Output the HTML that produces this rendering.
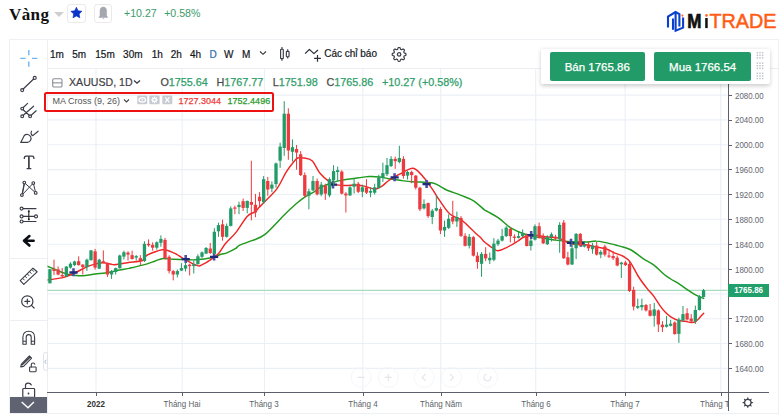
<!DOCTYPE html>
<html><head><meta charset="utf-8">
<style>
*{margin:0;padding:0;box-sizing:border-box}
html,body{width:780px;height:417px;overflow:hidden;background:#fff;font-family:"Liberation Sans",sans-serif;position:relative}
.abs{position:absolute}
#title{position:absolute;left:9px;top:5px;font-family:"Liberation Serif",serif;font-weight:bold;font-size:17px;color:#111;letter-spacing:0.4px;line-height:20px}
#tri{position:absolute;left:54px;top:11.5px;width:0;height:0;border-left:5px solid transparent;border-right:5px solid transparent;border-top:5px solid #cfcfcf}
.hbox{position:absolute;top:3.6px;width:18.6px;height:19px;border:1px solid #eaeaea;border-radius:3px;background:#fff}
#chg{position:absolute;left:124px;top:4.6px;font-size:10.6px;color:#3b9b68;line-height:16px;word-spacing:4.5px}
#logo{position:absolute;left:666px;top:9px}
#frame{position:absolute;left:9px;top:39px;width:770px;height:374.5px;border:1px solid #eef0f4}
#lt{position:absolute;left:47px;top:39px;width:1px;height:374px;background:#eceef2}
#tbline{position:absolute;left:47px;top:68px;width:731px;height:1px;background:#eceef2}
.tf{position:absolute;top:49px;font-size:10px;color:#131722;line-height:12px;-webkit-text-stroke:0.2px #131722}
#legend1{position:absolute;left:69px;top:76px;font-size:10.6px;color:#3f4046;line-height:13px;white-space:nowrap;-webkit-text-stroke:0.2px #3f4046}
#legend1 .g{color:#2f9e6a}
#redbox{position:absolute;left:44.3px;top:92.2px;width:229.6px;height:19.4px;border:2.5px solid #ee1111;border-radius:2.5px}
#ma{position:absolute;left:52.5px;top:95.5px;font-size:9px;color:#555;line-height:11px;white-space:nowrap}
.ib{position:absolute;top:95.5px;width:9.3px;height:9px;background:#d3d6dc;border-radius:1px}
#mav1{position:absolute;left:178.4px;top:95.5px;font-size:9px;color:#ee3b3b;line-height:11px;-webkit-text-stroke:0.25px #ee3b3b}
#mav2{position:absolute;left:227.6px;top:95.5px;font-size:9px;color:#2e9a2e;line-height:11px;-webkit-text-stroke:0.25px #2e9a2e}
#panel{position:absolute;left:540.6px;top:49.2px;width:229px;height:35px;background:#fff;box-shadow:0 1.5px 4px rgba(0,0,0,0.2);border-radius:2px}
.btn{position:absolute;top:52px;height:28.7px;background:#239b68;border-radius:2px;color:#fff;font-size:11.5px;line-height:30px;text-align:center;-webkit-text-stroke:0.25px #fff}
#axisV{position:absolute;left:727.8px;top:68px;width:1.3px;height:342.5px;background:#5d606b}
#axisH{position:absolute;left:47px;top:391.8px;width:722px;height:1.3px;background:#5d606b}
.pl{position:absolute;left:734.5px;font-size:9.4px;color:#63666e;line-height:10px;transform:scaleX(0.845);transform-origin:0 0;white-space:nowrap}
.tk{position:absolute;left:729px;width:3px;height:1px;background:#5d606b}
.tl{position:absolute;top:398.5px;width:80px;text-align:center;font-size:9.3px;color:#5c5f68;line-height:10px;transform:scaleX(0.86);white-space:nowrap}
.tl.b{font-weight:bold;color:#333}
.ttk{position:absolute;top:393px;width:1px;height:3px;background:#5d606b}
#pricetag{position:absolute;left:727.7px;top:284.4px;width:41.2px;height:12.3px;background:#22a06b;color:#fff;font-weight:bold;font-size:9.2px;line-height:12.8px;text-align:center;white-space:nowrap}
#collapse{position:absolute;left:10px;top:396.6px;width:36.9px;height:16px;background:#5f6270}
#sidetab{position:absolute;left:42.9px;top:351.7px;width:5px;height:19.5px;border:1px solid #dfe2e8;border-radius:3px;background:#fff}
.sep{position:absolute;left:9.5px;width:37.5px;height:1px;background:#eceef2}
svg{position:absolute;overflow:visible}
</style></head><body>
<div id="title">Vàng</div>
<div id="tri"></div>
<div class="hbox" style="left:67.3px"></div>
<svg style="left:67.3px;top:4px" width="19" height="19" viewBox="0 0 19 19"><path d="M9.40,3.30 L11.05,6.83 L14.92,7.31 L12.06,9.97 L12.81,13.79 L9.40,11.90 L5.99,13.79 L6.74,9.97 L3.88,7.31 L7.75,6.83 Z" fill="#0b35c8" stroke="#0b35c8" stroke-width="0.7" stroke-linejoin="round"/></svg>
<div class="hbox" style="left:93.5px"></div>
<svg style="left:93.5px;top:4px" width="19" height="19" viewBox="0 0 19 19"><path d="M9.3,3 C7.2,3 6,4.6 6,7 L6,11.6 L4.9,13.4 L13.7,13.4 L12.6,11.6 L12.6,7 C12.6,4.6 11.4,3 9.3,3 Z" fill="#a4a7af" stroke="#a4a7af" stroke-width="0.5" stroke-linejoin="round"/><path d="M8.2,14.2 H10.4 L9.3,15.2 Z" fill="#a4a7af"/></svg>
<div id="chg">+10.27 +0.58%</div>
<svg style="left:660px;top:6px" width="120" height="30" viewBox="660 6 120 30">
 <g fill="none" stroke="#0b3fcf" stroke-width="2.1" stroke-linejoin="miter">
  <path d="M668,27.6 V16.6 L675.5,12 L679.4,14.2 V26.4"/>
  <path d="M673,18.5 V29.8"/>
  <path d="M675.6,13 V30.6 L683.1,27.6 V17.6"/>
 </g>
 <circle cx="682.4" cy="15.6" r="1.05" fill="#ff6420"/>
 <text x="687.2" y="28.1" font-family="Liberation Sans" font-weight="bold" font-size="19.3" fill="#111" textLength="14.2" lengthAdjust="spacingAndGlyphs" stroke="#111" stroke-width="0.7">M</text>
 <rect x="705.2" y="18" width="2.5" height="10.1" fill="#111"/>
 <circle cx="706.5" cy="15.4" r="1.3" fill="#ff6420"/>
 <text x="709.4" y="28.1" font-family="Liberation Sans" font-size="19.6" fill="#ff5c16" textLength="67" lengthAdjust="spacingAndGlyphs" stroke="#ff5c16" stroke-width="0.5">TRADE</text>
</svg>

<div id="frame"></div>
<div id="lt"></div>
<div id="tbline"></div>

<!-- chart -->
<svg style="left:0;top:0" width="780" height="417" viewBox="0 0 780 417">
<defs><clipPath id="cc"><rect x="47.5" y="68.5" width="680" height="323"/></clipPath></defs>
<g clip-path="url(#cc)">
<line x1="47" y1="368.4" x2="728" y2="368.4" stroke="#ebeff6" stroke-width="1.1"/>
<line x1="47" y1="343.5" x2="728" y2="343.5" stroke="#ebeff6" stroke-width="1.1"/>
<line x1="47" y1="318.7" x2="728" y2="318.7" stroke="#ebeff6" stroke-width="1.1"/>
<line x1="47" y1="293.9" x2="728" y2="293.9" stroke="#ebeff6" stroke-width="1.1"/>
<line x1="47" y1="269.0" x2="728" y2="269.0" stroke="#ebeff6" stroke-width="1.1"/>
<line x1="47" y1="244.2" x2="728" y2="244.2" stroke="#ebeff6" stroke-width="1.1"/>
<line x1="47" y1="219.3" x2="728" y2="219.3" stroke="#ebeff6" stroke-width="1.1"/>
<line x1="47" y1="194.5" x2="728" y2="194.5" stroke="#ebeff6" stroke-width="1.1"/>
<line x1="47" y1="169.6" x2="728" y2="169.6" stroke="#ebeff6" stroke-width="1.1"/>
<line x1="47" y1="144.8" x2="728" y2="144.8" stroke="#ebeff6" stroke-width="1.1"/>
<line x1="47" y1="119.9" x2="728" y2="119.9" stroke="#ebeff6" stroke-width="1.1"/>
<line x1="47" y1="95.1" x2="728" y2="95.1" stroke="#ebeff6" stroke-width="1.1"/>
<line x1="96.0" y1="68" x2="96.0" y2="392" stroke="#ebeff6" stroke-width="1.1"/>
<line x1="182.2" y1="68" x2="182.2" y2="392" stroke="#ebeff6" stroke-width="1.1"/>
<line x1="264.5" y1="68" x2="264.5" y2="392" stroke="#ebeff6" stroke-width="1.1"/>
<line x1="362.8" y1="68" x2="362.8" y2="392" stroke="#ebeff6" stroke-width="1.1"/>
<line x1="440.7" y1="68" x2="440.7" y2="392" stroke="#ebeff6" stroke-width="1.1"/>
<line x1="535.7" y1="68" x2="535.7" y2="392" stroke="#ebeff6" stroke-width="1.1"/>
<line x1="625.1" y1="68" x2="625.1" y2="392" stroke="#ebeff6" stroke-width="1.1"/>
<line x1="720.7" y1="68" x2="720.7" y2="392" stroke="#ebeff6" stroke-width="1.1"/>
<line x1="47" y1="290.4" x2="728" y2="290.4" stroke="#a9dcc0" stroke-width="1.1"/>
<circle cx="361.2" cy="377.4" r="10" fill="none" stroke="#f5f6f8" stroke-width="1"/>
<path d="M357.7,377.4H364.7" stroke="#e4e6ea" stroke-width="1.2" fill="none"/>
<circle cx="388.3" cy="377.4" r="10" fill="none" stroke="#f5f6f8" stroke-width="1"/>
<path d="M384.8,377.4H391.8M388.3,373.9V380.9" stroke="#e4e6ea" stroke-width="1.2" fill="none"/>
<circle cx="424.2" cy="377.4" r="10" fill="none" stroke="#f5f6f8" stroke-width="1"/>
<path d="M425.7,373.9L422.2,377.4L425.7,380.9" stroke="#e4e6ea" stroke-width="1.2" fill="none"/>
<circle cx="451.5" cy="377.4" r="10" fill="none" stroke="#f5f6f8" stroke-width="1"/>
<path d="M450.0,373.9L453.5,377.4L450.0,380.9" stroke="#e4e6ea" stroke-width="1.2" fill="none"/>
<circle cx="487.6" cy="377.4" r="10" fill="none" stroke="#f5f6f8" stroke-width="1"/>
<path d="M490.6,375.9A3.5,3.5 0 1 1 486.6,374.0" stroke="#e4e6ea" stroke-width="1.2" fill="none"/>
<path d="M47.0,266.1 C49.0,266.9 55.1,269.6 58.7,271.0 C62.3,272.4 65.6,273.8 68.6,274.5 C71.5,275.2 73.6,275.3 76.4,275.5 C79.2,275.7 82.2,275.8 85.3,275.5 C88.4,275.2 91.8,274.4 95.1,274.0 C98.4,273.6 102.0,273.4 105.0,273.0 C108.0,272.6 110.3,272.0 112.8,271.5 C115.2,271.0 117.1,270.5 119.7,270.0 C122.3,269.5 124.7,269.2 128.7,268.4 C132.7,267.5 139.1,266.1 143.5,264.9 C147.9,263.7 152.0,262.1 155.3,261.0 C158.6,259.9 160.3,258.8 163.2,258.5 C166.1,258.2 169.2,259.1 172.8,259.3 C176.4,259.5 180.7,259.5 184.6,259.6 C188.5,259.7 192.0,260.1 196.4,259.8 C200.8,259.5 207.0,258.7 211.1,257.8 C215.2,256.9 218.4,255.1 221.0,254.3 C223.6,253.5 224.5,253.9 226.9,252.9 C229.3,251.9 233.6,249.7 235.7,248.4 C237.8,247.1 236.6,246.6 239.3,245.3 C242.0,244.0 247.5,242.5 251.8,240.7 C256.1,238.9 259.6,238.7 265.0,234.4 C270.4,230.1 279.2,219.9 284.2,215.0 C289.2,210.1 291.7,207.7 295.0,204.8 C298.3,201.9 300.7,199.8 304.0,197.6 C307.3,195.3 312.1,193.0 314.8,191.3 C317.5,189.7 317.1,189.1 320.0,187.7 C322.9,186.3 328.4,184.1 332.1,182.8 C335.8,181.5 337.1,181.0 342.0,180.1 C346.9,179.2 357.3,178.0 361.8,177.4 C366.3,176.8 366.0,176.6 369.0,176.5 C372.0,176.4 376.5,176.6 379.8,177.0 C383.1,177.4 385.2,178.1 388.8,178.7 C392.4,179.3 397.5,180.0 401.4,180.5 C405.3,181.0 408.3,181.4 412.2,181.7 C416.1,182.0 421.2,182.1 424.8,182.3 C428.4,182.6 431.1,182.4 433.8,183.2 C436.5,183.9 438.9,185.7 441.0,186.8 C443.1,187.9 443.3,188.6 446.6,190.0 C449.9,191.4 456.5,193.6 461.0,195.4 C465.5,197.2 469.7,198.4 473.6,200.8 C477.5,203.2 482.0,208.0 484.4,209.8 C486.8,211.6 485.6,210.4 488.0,211.8 C490.4,213.2 495.2,215.6 498.8,218.1 C502.4,220.6 506.0,224.7 509.6,227.1 C513.2,229.5 516.8,231.0 520.4,232.5 C524.0,234.0 527.6,235.2 531.2,236.1 C534.8,237.0 538.4,237.3 542.0,237.9 C545.6,238.5 549.2,239.2 552.8,239.7 C556.4,240.2 558.4,240.7 563.8,241.1 C569.2,241.5 580.0,242.0 585.4,242.0 C590.8,242.0 592.6,240.9 596.2,241.1 C599.8,241.2 603.4,242.2 607.0,242.9 C610.6,243.7 615.1,244.9 617.8,245.6 C620.5,246.3 620.8,246.3 623.0,247.0 C625.2,247.7 627.9,248.1 631.2,250.0 C634.6,251.9 639.3,256.1 643.1,258.6 C646.9,261.1 650.3,262.4 653.9,265.1 C657.5,267.8 661.8,272.5 664.6,274.8 C667.4,277.1 668.3,277.4 670.8,279.0 C673.3,280.6 676.8,282.4 679.8,284.4 C682.8,286.3 686.1,288.9 688.8,290.7 C691.5,292.5 693.5,293.9 696.0,295.2 C698.5,296.5 702.4,297.9 703.7,298.4" fill="none" stroke="#1f9a1f" stroke-width="1.45" stroke-linejoin="round" stroke-linecap="round"/>
<path d="M47.0,280.0 C47.7,279.9 48.6,279.8 51.4,279.4 C54.2,279.0 60.0,278.4 63.7,277.4 C67.4,276.4 69.7,275.2 73.5,273.5 C77.3,271.8 83.0,268.6 86.3,267.1 C89.6,265.6 90.4,265.3 93.2,264.6 C96.0,263.9 99.7,262.7 103.0,262.7 C106.3,262.7 110.3,264.4 112.8,264.6 C115.2,264.9 115.1,264.6 117.7,264.2 C120.3,263.8 124.6,263.1 128.7,262.5 C132.8,261.9 139.6,261.6 142.5,260.5 C145.4,259.4 144.3,257.1 146.4,255.6 C148.5,254.1 152.7,252.7 155.3,251.7 C157.9,250.7 160.2,249.9 162.2,249.7 C164.2,249.4 165.3,249.7 167.1,250.2 C168.9,250.7 171.4,251.9 173.0,252.6 C174.6,253.3 174.8,253.2 176.7,254.3 C178.6,255.4 181.1,257.4 184.6,259.3 C188.1,261.2 194.4,264.7 197.4,265.6 C200.4,266.5 200.0,265.8 202.3,264.7 C204.6,263.6 208.3,261.3 211.1,259.3 C213.9,257.3 216.6,255.5 219.0,252.9 C221.4,250.3 222.4,247.3 225.3,243.8 C228.2,240.3 232.6,236.7 236.2,232.1 C239.8,227.5 244.0,219.9 247.1,216.5 C250.2,213.1 252.9,213.3 254.9,211.8 C256.9,210.3 257.4,209.1 259.0,207.5 C260.6,205.9 261.4,205.2 264.4,202.1 C267.4,198.9 273.4,193.5 277.0,188.6 C280.6,183.7 283.3,176.8 286.0,172.4 C288.7,168.1 291.2,164.9 293.2,162.5 C295.1,160.1 295.9,158.8 297.7,158.0 C299.5,157.2 301.6,157.6 304.0,158.0 C306.4,158.4 309.4,158.1 312.1,160.7 C314.8,163.2 317.1,169.8 320.0,173.3 C322.9,176.8 326.9,180.0 329.4,181.9 C331.9,183.8 332.1,184.0 334.8,184.6 C337.5,185.2 342.0,185.4 345.6,185.5 C349.2,185.6 353.1,184.8 356.4,185.0 C359.7,185.2 362.4,185.7 365.4,186.4 C368.4,187.1 371.7,189.1 374.4,189.1 C377.1,189.1 379.2,187.8 381.6,186.4 C384.0,185.0 385.8,182.5 388.8,180.5 C391.8,178.5 395.9,176.2 399.6,174.2 C403.4,172.2 408.5,169.1 411.3,168.4 C414.1,167.7 414.4,168.5 416.7,170.2 C418.9,171.9 422.2,175.6 424.8,178.7 C427.4,181.8 429.4,184.8 432.0,188.6 C434.6,192.3 437.1,196.9 440.1,201.2 C443.1,205.5 446.7,211.2 450.2,214.3 C453.7,217.4 457.3,217.1 461.0,219.7 C464.7,222.3 469.7,227.6 472.3,230.0 C474.9,232.4 475.1,232.7 476.5,234.0 C477.9,235.3 479.8,236.8 481.0,238.0 C482.2,239.2 482.6,240.2 484.0,241.5 C485.4,242.8 487.9,244.6 489.5,245.8 C491.1,247.0 492.6,247.9 493.8,248.7 C495.1,249.5 495.8,250.4 497.0,250.6 C498.2,250.8 499.5,250.5 501.0,250.0 C502.5,249.5 504.1,248.7 506.0,247.8 C507.9,246.9 510.6,245.5 512.6,244.4 C514.6,243.3 516.1,242.2 518.0,241.0 C519.9,239.8 521.2,238.0 524.0,237.0 C526.8,236.0 530.9,235.2 534.8,235.2 C538.7,235.2 543.5,236.6 547.4,237.0 C551.3,237.4 554.1,236.8 558.0,237.9 C561.9,239.0 566.4,242.7 571.0,243.8 C575.6,244.9 581.2,244.2 585.4,244.7 C589.6,245.2 592.6,246.2 596.2,247.0 C599.8,247.8 604.0,248.2 607.0,249.2 C610.0,250.2 611.4,251.6 614.2,252.8 C617.0,254.0 621.0,255.0 623.6,256.5 C626.2,258.0 627.6,258.5 630.1,261.9 C632.6,265.3 635.8,272.5 638.7,277.0 C641.6,281.5 644.9,285.7 647.4,288.9 C649.9,292.1 651.8,293.5 653.9,296.4 C656.0,299.3 658.4,303.5 660.3,306.1 C662.2,308.8 663.6,310.5 665.4,312.3 C667.1,314.1 668.7,315.5 670.8,316.8 C672.9,318.1 675.6,319.6 678.0,320.4 C680.4,321.1 683.0,320.9 685.2,321.3 C687.5,321.7 689.7,322.5 691.5,322.5 C693.3,322.5 694.6,322.1 696.0,321.3 C697.4,320.5 698.3,319.1 699.6,317.7 C700.9,316.3 703.0,313.9 703.7,313.2" fill="none" stroke="#ef2626" stroke-width="1.45" stroke-linejoin="round" stroke-linecap="round"/>
<path d="M73.5,268.3V276.3" stroke="#4d4dab" stroke-width="2.6"/><path d="M69.4,272.5H77.6" stroke="#1f2a78" stroke-width="2.3"/>
<path d="M185.7,255.0V263.0" stroke="#4d4dab" stroke-width="2.6"/><path d="M181.6,259.2H189.8" stroke="#1f2a78" stroke-width="2.3"/>
<path d="M214.1,252.6V260.6" stroke="#4d4dab" stroke-width="2.6"/><path d="M210.0,256.8H218.2" stroke="#1f2a78" stroke-width="2.3"/>
<path d="M333.0,180.4V188.4" stroke="#4d4dab" stroke-width="2.6"/><path d="M328.9,184.6H337.1" stroke="#1f2a78" stroke-width="2.3"/>
<path d="M394.6,173.2V181.2" stroke="#4d4dab" stroke-width="2.6"/><path d="M390.5,177.4H398.7" stroke="#1f2a78" stroke-width="2.3"/>
<path d="M426.6,179.9V187.9" stroke="#4d4dab" stroke-width="2.6"/><path d="M422.5,184.1H430.7" stroke="#1f2a78" stroke-width="2.3"/>
<path d="M531.2,231.0V239.0" stroke="#4d4dab" stroke-width="2.6"/><path d="M527.1,235.2H535.3" stroke="#1f2a78" stroke-width="2.3"/>
<path d="M571.0,238.7V246.7" stroke="#4d4dab" stroke-width="2.6"/><path d="M566.9,242.9H575.1" stroke="#1f2a78" stroke-width="2.3"/>
<path d="M580.9,238.7V246.7" stroke="#4d4dab" stroke-width="2.6"/><path d="M576.8,242.9H585.0" stroke="#1f2a78" stroke-width="2.3"/>
<line x1="49.90" y1="269.2" x2="49.90" y2="283.3" stroke="#239b68" stroke-width="1"/>
<rect x="48.25" y="269.2" width="3.3" height="14.1" fill="#239b68"/>
<line x1="54.01" y1="259.7" x2="54.01" y2="275.0" stroke="#ec3a3e" stroke-width="1"/>
<rect x="52.36" y="269.1" width="3.3" height="1.9" fill="#ec3a3e"/>
<line x1="58.12" y1="266.4" x2="58.12" y2="275.3" stroke="#ec3a3e" stroke-width="1"/>
<rect x="56.47" y="269.4" width="3.3" height="5.1" fill="#ec3a3e"/>
<line x1="62.23" y1="268.1" x2="62.23" y2="277.0" stroke="#ec3a3e" stroke-width="1"/>
<rect x="60.58" y="275.0" width="3.3" height="1.4" fill="#ec3a3e"/>
<line x1="66.34" y1="266.1" x2="66.34" y2="276.8" stroke="#239b68" stroke-width="1"/>
<rect x="64.69" y="266.6" width="3.3" height="9.8" fill="#239b68"/>
<line x1="70.45" y1="262.2" x2="70.45" y2="268.6" stroke="#239b68" stroke-width="1"/>
<rect x="68.80" y="263.7" width="3.3" height="3.9" fill="#239b68"/>
<line x1="74.57" y1="260.7" x2="74.57" y2="266.1" stroke="#239b68" stroke-width="1"/>
<rect x="72.92" y="261.5" width="3.3" height="3.6" fill="#239b68"/>
<line x1="78.68" y1="256.3" x2="78.68" y2="265.6" stroke="#ec3a3e" stroke-width="1"/>
<rect x="77.03" y="261.2" width="3.3" height="3.9" fill="#ec3a3e"/>
<line x1="82.79" y1="264.2" x2="82.79" y2="274.5" stroke="#ec3a3e" stroke-width="1"/>
<rect x="81.14" y="264.6" width="3.3" height="2.5" fill="#ec3a3e"/>
<line x1="86.90" y1="258.6" x2="86.90" y2="271.0" stroke="#239b68" stroke-width="1"/>
<rect x="85.25" y="259.7" width="3.3" height="7.4" fill="#239b68"/>
<line x1="91.01" y1="250.0" x2="91.01" y2="260.5" stroke="#239b68" stroke-width="1"/>
<rect x="89.36" y="250.4" width="3.3" height="9.8" fill="#239b68"/>
<line x1="95.12" y1="248.9" x2="95.12" y2="269.6" stroke="#ec3a3e" stroke-width="1"/>
<rect x="93.47" y="251.4" width="3.3" height="16.2" fill="#ec3a3e"/>
<line x1="99.23" y1="258.7" x2="99.23" y2="269.0" stroke="#239b68" stroke-width="1"/>
<rect x="97.58" y="259.7" width="3.3" height="8.9" fill="#239b68"/>
<line x1="103.34" y1="250.4" x2="103.34" y2="263.2" stroke="#ec3a3e" stroke-width="1"/>
<rect x="101.69" y="261.2" width="3.3" height="1.5" fill="#ec3a3e"/>
<line x1="107.45" y1="262.7" x2="107.45" y2="276.9" stroke="#ec3a3e" stroke-width="1"/>
<rect x="105.80" y="263.2" width="3.3" height="11.3" fill="#ec3a3e"/>
<line x1="111.56" y1="270.0" x2="111.56" y2="278.9" stroke="#239b68" stroke-width="1"/>
<rect x="109.91" y="271.0" width="3.3" height="3.5" fill="#239b68"/>
<line x1="115.68" y1="267.6" x2="115.68" y2="274.5" stroke="#239b68" stroke-width="1"/>
<rect x="114.03" y="268.1" width="3.3" height="3.9" fill="#239b68"/>
<line x1="119.79" y1="254.6" x2="119.79" y2="268.5" stroke="#239b68" stroke-width="1"/>
<rect x="118.14" y="255.5" width="3.3" height="12.7" fill="#239b68"/>
<line x1="123.90" y1="250.7" x2="123.90" y2="259.5" stroke="#239b68" stroke-width="1"/>
<rect x="122.25" y="252.2" width="3.3" height="4.4" fill="#239b68"/>
<line x1="128.01" y1="251.2" x2="128.01" y2="260.5" stroke="#ec3a3e" stroke-width="1"/>
<rect x="126.36" y="252.6" width="3.3" height="2.0" fill="#ec3a3e"/>
<line x1="132.12" y1="250.7" x2="132.12" y2="259.5" stroke="#ec3a3e" stroke-width="1"/>
<rect x="130.47" y="255.1" width="3.3" height="3.9" fill="#ec3a3e"/>
<line x1="136.23" y1="255.1" x2="136.23" y2="260.5" stroke="#239b68" stroke-width="1"/>
<rect x="134.58" y="256.1" width="3.3" height="1.5" fill="#239b68"/>
<line x1="140.34" y1="255.1" x2="140.34" y2="265.4" stroke="#ec3a3e" stroke-width="1"/>
<rect x="138.69" y="258.1" width="3.3" height="2.9" fill="#ec3a3e"/>
<line x1="144.45" y1="241.3" x2="144.45" y2="262.0" stroke="#239b68" stroke-width="1"/>
<rect x="142.80" y="243.8" width="3.3" height="17.2" fill="#239b68"/>
<line x1="148.56" y1="239.4" x2="148.56" y2="246.7" stroke="#ec3a3e" stroke-width="1"/>
<rect x="146.91" y="243.8" width="3.3" height="1.5" fill="#ec3a3e"/>
<line x1="152.67" y1="242.3" x2="152.67" y2="250.7" stroke="#ec3a3e" stroke-width="1"/>
<rect x="151.02" y="244.8" width="3.3" height="2.9" fill="#ec3a3e"/>
<line x1="156.79" y1="241.3" x2="156.79" y2="249.7" stroke="#239b68" stroke-width="1"/>
<rect x="155.14" y="242.3" width="3.3" height="5.4" fill="#239b68"/>
<line x1="160.90" y1="235.4" x2="160.90" y2="246.7" stroke="#239b68" stroke-width="1"/>
<rect x="159.25" y="238.9" width="3.3" height="3.9" fill="#239b68"/>
<line x1="165.01" y1="237.9" x2="165.01" y2="259.5" stroke="#ec3a3e" stroke-width="1"/>
<rect x="163.36" y="239.9" width="3.3" height="18.1" fill="#ec3a3e"/>
<line x1="169.12" y1="255.3" x2="169.12" y2="273.5" stroke="#ec3a3e" stroke-width="1"/>
<rect x="167.47" y="256.8" width="3.3" height="14.3" fill="#ec3a3e"/>
<line x1="173.23" y1="270.0" x2="173.23" y2="280.4" stroke="#ec3a3e" stroke-width="1"/>
<rect x="171.58" y="271.1" width="3.3" height="3.4" fill="#ec3a3e"/>
<line x1="177.34" y1="269.6" x2="177.34" y2="277.4" stroke="#239b68" stroke-width="1"/>
<rect x="175.69" y="271.1" width="3.3" height="3.4" fill="#239b68"/>
<line x1="181.45" y1="263.2" x2="181.45" y2="270.8" stroke="#239b68" stroke-width="1"/>
<rect x="179.80" y="268.1" width="3.3" height="2.5" fill="#239b68"/>
<line x1="185.56" y1="262.2" x2="185.56" y2="271.5" stroke="#239b68" stroke-width="1"/>
<rect x="183.91" y="265.2" width="3.3" height="3.4" fill="#239b68"/>
<line x1="189.67" y1="263.7" x2="189.67" y2="275.5" stroke="#ec3a3e" stroke-width="1"/>
<rect x="188.02" y="264.7" width="3.3" height="1.4" fill="#ec3a3e"/>
<line x1="193.78" y1="260.2" x2="193.78" y2="273.5" stroke="#239b68" stroke-width="1"/>
<rect x="192.13" y="264.2" width="3.3" height="1.9" fill="#239b68"/>
<line x1="197.90" y1="254.3" x2="197.90" y2="264.5" stroke="#239b68" stroke-width="1"/>
<rect x="196.25" y="256.3" width="3.3" height="7.9" fill="#239b68"/>
<line x1="202.01" y1="251.4" x2="202.01" y2="258.0" stroke="#239b68" stroke-width="1"/>
<rect x="200.36" y="252.4" width="3.3" height="4.4" fill="#239b68"/>
<line x1="206.12" y1="247.0" x2="206.12" y2="254.0" stroke="#239b68" stroke-width="1"/>
<rect x="204.47" y="248.0" width="3.3" height="5.6" fill="#239b68"/>
<line x1="210.23" y1="243.0" x2="210.23" y2="254.0" stroke="#ec3a3e" stroke-width="1"/>
<rect x="208.58" y="248.5" width="3.3" height="4.5" fill="#ec3a3e"/>
<line x1="214.34" y1="228.2" x2="214.34" y2="254.2" stroke="#239b68" stroke-width="1"/>
<rect x="212.69" y="231.8" width="3.3" height="22.1" fill="#239b68"/>
<line x1="218.45" y1="222.7" x2="218.45" y2="236.8" stroke="#239b68" stroke-width="1"/>
<rect x="216.80" y="225.1" width="3.3" height="6.2" fill="#239b68"/>
<line x1="222.56" y1="219.6" x2="222.56" y2="240.7" stroke="#ec3a3e" stroke-width="1"/>
<rect x="220.91" y="224.3" width="3.3" height="12.5" fill="#ec3a3e"/>
<line x1="226.67" y1="223.5" x2="226.67" y2="237.5" stroke="#239b68" stroke-width="1"/>
<rect x="225.02" y="225.9" width="3.3" height="10.9" fill="#239b68"/>
<line x1="230.78" y1="206.4" x2="230.78" y2="226.5" stroke="#239b68" stroke-width="1"/>
<rect x="229.13" y="208.4" width="3.3" height="17.5" fill="#239b68"/>
<line x1="234.89" y1="205.6" x2="234.89" y2="214.2" stroke="#ec3a3e" stroke-width="1"/>
<rect x="233.24" y="207.5" width="3.3" height="1.2" fill="#ec3a3e"/>
<line x1="239.01" y1="201.7" x2="239.01" y2="214.2" stroke="#239b68" stroke-width="1"/>
<rect x="237.36" y="204.8" width="3.3" height="2.3" fill="#239b68"/>
<line x1="243.12" y1="198.6" x2="243.12" y2="211.0" stroke="#ec3a3e" stroke-width="1"/>
<rect x="241.47" y="201.2" width="3.3" height="6.7" fill="#ec3a3e"/>
<line x1="247.23" y1="200.6" x2="247.23" y2="213.4" stroke="#239b68" stroke-width="1"/>
<rect x="245.58" y="200.9" width="3.3" height="7.0" fill="#239b68"/>
<line x1="251.34" y1="160.7" x2="251.34" y2="220.4" stroke="#ec3a3e" stroke-width="1"/>
<rect x="249.69" y="202.0" width="3.3" height="2.8" fill="#ec3a3e"/>
<line x1="255.45" y1="193.9" x2="255.45" y2="217.3" stroke="#ec3a3e" stroke-width="1"/>
<rect x="253.80" y="204.8" width="3.3" height="7.7" fill="#ec3a3e"/>
<line x1="259.56" y1="192.2" x2="259.56" y2="206.0" stroke="#ec3a3e" stroke-width="1"/>
<rect x="257.91" y="196.8" width="3.3" height="4.4" fill="#ec3a3e"/>
<line x1="263.67" y1="176.0" x2="263.67" y2="203.9" stroke="#239b68" stroke-width="1"/>
<rect x="262.02" y="179.2" width="3.3" height="22.9" fill="#239b68"/>
<line x1="267.78" y1="176.9" x2="267.78" y2="195.8" stroke="#ec3a3e" stroke-width="1"/>
<rect x="266.13" y="181.0" width="3.3" height="8.5" fill="#ec3a3e"/>
<line x1="271.89" y1="181.4" x2="271.89" y2="192.2" stroke="#239b68" stroke-width="1"/>
<rect x="270.24" y="184.6" width="3.3" height="4.0" fill="#239b68"/>
<line x1="276.00" y1="162.5" x2="276.00" y2="187.7" stroke="#239b68" stroke-width="1"/>
<rect x="274.36" y="163.4" width="3.3" height="20.7" fill="#239b68"/>
<line x1="280.12" y1="142.7" x2="280.12" y2="167.9" stroke="#239b68" stroke-width="1"/>
<rect x="278.47" y="146.6" width="3.3" height="14.1" fill="#239b68"/>
<line x1="284.23" y1="101.2" x2="284.23" y2="155.8" stroke="#239b68" stroke-width="1"/>
<rect x="282.58" y="113.7" width="3.3" height="34.3" fill="#239b68"/>
<line x1="288.34" y1="108.3" x2="288.34" y2="159.8" stroke="#ec3a3e" stroke-width="1"/>
<rect x="286.69" y="113.7" width="3.3" height="36.8" fill="#ec3a3e"/>
<line x1="292.45" y1="139.4" x2="292.45" y2="161.6" stroke="#239b68" stroke-width="1"/>
<rect x="290.80" y="147.2" width="3.3" height="4.6" fill="#239b68"/>
<line x1="296.56" y1="145.0" x2="296.56" y2="169.7" stroke="#ec3a3e" stroke-width="1"/>
<rect x="294.91" y="149.0" width="3.3" height="3.6" fill="#ec3a3e"/>
<line x1="300.67" y1="151.2" x2="300.67" y2="176.0" stroke="#ec3a3e" stroke-width="1"/>
<rect x="299.02" y="154.3" width="3.3" height="20.8" fill="#ec3a3e"/>
<line x1="304.78" y1="172.4" x2="304.78" y2="197.6" stroke="#ec3a3e" stroke-width="1"/>
<rect x="303.13" y="175.1" width="3.3" height="20.7" fill="#ec3a3e"/>
<line x1="308.89" y1="188.6" x2="308.89" y2="209.3" stroke="#239b68" stroke-width="1"/>
<rect x="307.24" y="191.3" width="3.3" height="4.5" fill="#239b68"/>
<line x1="313.00" y1="176.0" x2="313.00" y2="191.0" stroke="#239b68" stroke-width="1"/>
<rect x="311.35" y="181.0" width="3.3" height="9.4" fill="#239b68"/>
<line x1="317.11" y1="178.5" x2="317.11" y2="195.5" stroke="#ec3a3e" stroke-width="1"/>
<rect x="315.46" y="181.0" width="3.3" height="13.3" fill="#ec3a3e"/>
<line x1="321.23" y1="181.9" x2="321.23" y2="196.3" stroke="#239b68" stroke-width="1"/>
<rect x="319.58" y="184.6" width="3.3" height="9.9" fill="#239b68"/>
<line x1="325.34" y1="183.7" x2="325.34" y2="199.9" stroke="#ec3a3e" stroke-width="1"/>
<rect x="323.69" y="185.5" width="3.3" height="8.1" fill="#ec3a3e"/>
<line x1="329.45" y1="177.4" x2="329.45" y2="197.2" stroke="#239b68" stroke-width="1"/>
<rect x="327.80" y="179.2" width="3.3" height="16.2" fill="#239b68"/>
<line x1="333.56" y1="165.2" x2="333.56" y2="185.5" stroke="#239b68" stroke-width="1"/>
<rect x="331.91" y="171.1" width="3.3" height="9.0" fill="#239b68"/>
<line x1="337.67" y1="166.6" x2="337.67" y2="181.0" stroke="#239b68" stroke-width="1"/>
<rect x="336.02" y="170.2" width="3.3" height="1.8" fill="#239b68"/>
<line x1="341.78" y1="170.2" x2="341.78" y2="194.5" stroke="#ec3a3e" stroke-width="1"/>
<rect x="340.13" y="171.6" width="3.3" height="22.0" fill="#ec3a3e"/>
<line x1="345.89" y1="192.1" x2="345.89" y2="212.5" stroke="#ec3a3e" stroke-width="1"/>
<rect x="344.24" y="193.6" width="3.3" height="1.8" fill="#ec3a3e"/>
<line x1="350.00" y1="185.5" x2="350.00" y2="196.0" stroke="#239b68" stroke-width="1"/>
<rect x="348.35" y="187.3" width="3.3" height="8.1" fill="#239b68"/>
<line x1="354.11" y1="178.3" x2="354.11" y2="193.6" stroke="#239b68" stroke-width="1"/>
<rect x="352.46" y="183.7" width="3.3" height="3.0" fill="#239b68"/>
<line x1="358.22" y1="181.9" x2="358.22" y2="193.0" stroke="#ec3a3e" stroke-width="1"/>
<rect x="356.57" y="183.7" width="3.3" height="8.1" fill="#ec3a3e"/>
<line x1="362.34" y1="184.6" x2="362.34" y2="197.2" stroke="#239b68" stroke-width="1"/>
<rect x="360.69" y="187.3" width="3.3" height="4.5" fill="#239b68"/>
<line x1="366.45" y1="179.2" x2="366.45" y2="194.0" stroke="#ec3a3e" stroke-width="1"/>
<rect x="364.80" y="187.3" width="3.3" height="5.4" fill="#ec3a3e"/>
<line x1="370.56" y1="187.3" x2="370.56" y2="197.2" stroke="#239b68" stroke-width="1"/>
<rect x="368.91" y="190.9" width="3.3" height="1.8" fill="#239b68"/>
<line x1="374.67" y1="183.7" x2="374.67" y2="194.5" stroke="#239b68" stroke-width="1"/>
<rect x="373.02" y="187.3" width="3.3" height="5.4" fill="#239b68"/>
<line x1="378.78" y1="174.7" x2="378.78" y2="188.6" stroke="#239b68" stroke-width="1"/>
<rect x="377.13" y="177.6" width="3.3" height="10.2" fill="#239b68"/>
<line x1="382.89" y1="162.7" x2="382.89" y2="181.9" stroke="#239b68" stroke-width="1"/>
<rect x="381.24" y="173.1" width="3.3" height="4.5" fill="#239b68"/>
<line x1="387.00" y1="158.0" x2="387.00" y2="176.0" stroke="#239b68" stroke-width="1"/>
<rect x="385.35" y="165.2" width="3.3" height="9.0" fill="#239b68"/>
<line x1="391.11" y1="156.2" x2="391.11" y2="167.0" stroke="#239b68" stroke-width="1"/>
<rect x="389.46" y="158.9" width="3.3" height="7.2" fill="#239b68"/>
<line x1="395.22" y1="156.6" x2="395.22" y2="168.8" stroke="#ec3a3e" stroke-width="1"/>
<rect x="393.57" y="158.9" width="3.3" height="2.3" fill="#ec3a3e"/>
<line x1="399.33" y1="145.8" x2="399.33" y2="163.4" stroke="#239b68" stroke-width="1"/>
<rect x="397.69" y="158.0" width="3.3" height="4.0" fill="#239b68"/>
<line x1="403.45" y1="156.2" x2="403.45" y2="178.7" stroke="#ec3a3e" stroke-width="1"/>
<rect x="401.80" y="158.9" width="3.3" height="17.1" fill="#ec3a3e"/>
<line x1="407.56" y1="171.0" x2="407.56" y2="179.6" stroke="#239b68" stroke-width="1"/>
<rect x="405.91" y="172.0" width="3.3" height="3.6" fill="#239b68"/>
<line x1="411.67" y1="170.6" x2="411.67" y2="183.2" stroke="#ec3a3e" stroke-width="1"/>
<rect x="410.02" y="172.0" width="3.3" height="3.1" fill="#ec3a3e"/>
<line x1="415.78" y1="175.1" x2="415.78" y2="189.5" stroke="#ec3a3e" stroke-width="1"/>
<rect x="414.13" y="175.6" width="3.3" height="12.1" fill="#ec3a3e"/>
<line x1="419.89" y1="186.8" x2="419.89" y2="211.1" stroke="#ec3a3e" stroke-width="1"/>
<rect x="418.24" y="187.7" width="3.3" height="21.6" fill="#ec3a3e"/>
<line x1="424.00" y1="199.4" x2="424.00" y2="209.5" stroke="#239b68" stroke-width="1"/>
<rect x="422.35" y="203.9" width="3.3" height="4.5" fill="#239b68"/>
<line x1="428.11" y1="202.6" x2="428.11" y2="217.9" stroke="#ec3a3e" stroke-width="1"/>
<rect x="426.46" y="203.1" width="3.3" height="13.0" fill="#ec3a3e"/>
<line x1="432.22" y1="208.9" x2="432.22" y2="224.2" stroke="#239b68" stroke-width="1"/>
<rect x="430.57" y="210.7" width="3.3" height="6.3" fill="#239b68"/>
<line x1="436.33" y1="195.2" x2="436.33" y2="211.5" stroke="#239b68" stroke-width="1"/>
<rect x="434.68" y="208.1" width="3.3" height="2.5" fill="#239b68"/>
<line x1="440.44" y1="207.2" x2="440.44" y2="234.1" stroke="#ec3a3e" stroke-width="1"/>
<rect x="438.79" y="209.0" width="3.3" height="21.5" fill="#ec3a3e"/>
<line x1="444.56" y1="220.6" x2="444.56" y2="236.8" stroke="#239b68" stroke-width="1"/>
<rect x="442.91" y="226.9" width="3.3" height="3.6" fill="#239b68"/>
<line x1="448.67" y1="214.3" x2="448.67" y2="229.0" stroke="#239b68" stroke-width="1"/>
<rect x="447.02" y="218.8" width="3.3" height="9.0" fill="#239b68"/>
<line x1="452.78" y1="200.8" x2="452.78" y2="224.2" stroke="#ec3a3e" stroke-width="1"/>
<rect x="451.13" y="217.0" width="3.3" height="4.5" fill="#ec3a3e"/>
<line x1="456.89" y1="211.6" x2="456.89" y2="226.9" stroke="#239b68" stroke-width="1"/>
<rect x="455.24" y="217.0" width="3.3" height="4.5" fill="#239b68"/>
<line x1="461.00" y1="216.1" x2="461.00" y2="237.0" stroke="#ec3a3e" stroke-width="1"/>
<rect x="459.35" y="217.9" width="3.3" height="18.0" fill="#ec3a3e"/>
<line x1="465.11" y1="233.2" x2="465.11" y2="246.5" stroke="#ec3a3e" stroke-width="1"/>
<rect x="463.46" y="235.9" width="3.3" height="9.9" fill="#ec3a3e"/>
<line x1="469.22" y1="234.1" x2="469.22" y2="248.5" stroke="#239b68" stroke-width="1"/>
<rect x="467.57" y="236.8" width="3.3" height="9.0" fill="#239b68"/>
<line x1="473.33" y1="235.9" x2="473.33" y2="256.5" stroke="#ec3a3e" stroke-width="1"/>
<rect x="471.68" y="237.1" width="3.3" height="18.6" fill="#ec3a3e"/>
<line x1="477.44" y1="252.1" x2="477.44" y2="268.8" stroke="#ec3a3e" stroke-width="1"/>
<rect x="475.79" y="255.7" width="3.3" height="6.3" fill="#ec3a3e"/>
<line x1="481.55" y1="252.1" x2="481.55" y2="276.8" stroke="#239b68" stroke-width="1"/>
<rect x="479.90" y="253.9" width="3.3" height="9.9" fill="#239b68"/>
<line x1="485.67" y1="247.2" x2="485.67" y2="261.1" stroke="#ec3a3e" stroke-width="1"/>
<rect x="484.02" y="253.9" width="3.3" height="4.5" fill="#ec3a3e"/>
<line x1="489.78" y1="252.5" x2="489.78" y2="264.0" stroke="#239b68" stroke-width="1"/>
<rect x="488.13" y="257.8" width="3.3" height="2.5" fill="#239b68"/>
<line x1="493.89" y1="238.2" x2="493.89" y2="261.3" stroke="#239b68" stroke-width="1"/>
<rect x="492.24" y="243.6" width="3.3" height="16.2" fill="#239b68"/>
<line x1="498.00" y1="238.8" x2="498.00" y2="246.0" stroke="#239b68" stroke-width="1"/>
<rect x="496.35" y="240.6" width="3.3" height="3.6" fill="#239b68"/>
<line x1="502.11" y1="228.9" x2="502.11" y2="241.5" stroke="#239b68" stroke-width="1"/>
<rect x="500.46" y="236.1" width="3.3" height="4.5" fill="#239b68"/>
<line x1="506.22" y1="226.2" x2="506.22" y2="237.0" stroke="#239b68" stroke-width="1"/>
<rect x="504.57" y="227.6" width="3.3" height="8.5" fill="#239b68"/>
<line x1="510.33" y1="227.1" x2="510.33" y2="242.4" stroke="#ec3a3e" stroke-width="1"/>
<rect x="508.68" y="228.9" width="3.3" height="7.2" fill="#ec3a3e"/>
<line x1="514.44" y1="234.3" x2="514.44" y2="242.4" stroke="#ec3a3e" stroke-width="1"/>
<rect x="512.79" y="236.6" width="3.3" height="1.3" fill="#ec3a3e"/>
<line x1="518.55" y1="231.6" x2="518.55" y2="238.5" stroke="#239b68" stroke-width="1"/>
<rect x="516.90" y="236.1" width="3.3" height="1.8" fill="#239b68"/>
<line x1="522.66" y1="229.4" x2="522.66" y2="237.0" stroke="#239b68" stroke-width="1"/>
<rect x="521.01" y="233.4" width="3.3" height="2.7" fill="#239b68"/>
<line x1="526.78" y1="233.4" x2="526.78" y2="246.5" stroke="#ec3a3e" stroke-width="1"/>
<rect x="525.13" y="235.2" width="3.3" height="10.8" fill="#ec3a3e"/>
<line x1="530.89" y1="238.8" x2="530.89" y2="250.5" stroke="#239b68" stroke-width="1"/>
<rect x="529.24" y="240.6" width="3.3" height="5.4" fill="#239b68"/>
<line x1="535.00" y1="224.4" x2="535.00" y2="240.5" stroke="#239b68" stroke-width="1"/>
<rect x="533.35" y="226.2" width="3.3" height="13.5" fill="#239b68"/>
<line x1="539.11" y1="222.6" x2="539.11" y2="238.8" stroke="#ec3a3e" stroke-width="1"/>
<rect x="537.46" y="226.2" width="3.3" height="11.7" fill="#ec3a3e"/>
<line x1="543.22" y1="233.4" x2="543.22" y2="244.0" stroke="#ec3a3e" stroke-width="1"/>
<rect x="541.57" y="237.0" width="3.3" height="6.3" fill="#ec3a3e"/>
<line x1="547.33" y1="235.2" x2="547.33" y2="245.1" stroke="#239b68" stroke-width="1"/>
<rect x="545.68" y="237.0" width="3.3" height="7.2" fill="#239b68"/>
<line x1="551.44" y1="232.5" x2="551.44" y2="241.5" stroke="#239b68" stroke-width="1"/>
<rect x="549.79" y="234.3" width="3.3" height="2.7" fill="#239b68"/>
<line x1="555.55" y1="234.8" x2="555.55" y2="240.0" stroke="#ec3a3e" stroke-width="1"/>
<rect x="553.90" y="236.8" width="3.3" height="1.8" fill="#ec3a3e"/>
<line x1="559.66" y1="222.2" x2="559.66" y2="252.8" stroke="#239b68" stroke-width="1"/>
<rect x="558.01" y="224.9" width="3.3" height="14.4" fill="#239b68"/>
<line x1="563.77" y1="220.0" x2="563.77" y2="259.0" stroke="#ec3a3e" stroke-width="1"/>
<rect x="562.12" y="222.6" width="3.3" height="35.6" fill="#ec3a3e"/>
<line x1="567.89" y1="251.9" x2="567.89" y2="265.4" stroke="#ec3a3e" stroke-width="1"/>
<rect x="566.24" y="257.3" width="3.3" height="7.2" fill="#ec3a3e"/>
<line x1="572.00" y1="242.0" x2="572.00" y2="265.0" stroke="#239b68" stroke-width="1"/>
<rect x="570.35" y="248.3" width="3.3" height="16.2" fill="#239b68"/>
<line x1="576.11" y1="233.0" x2="576.11" y2="259.1" stroke="#239b68" stroke-width="1"/>
<rect x="574.46" y="233.9" width="3.3" height="14.4" fill="#239b68"/>
<line x1="580.22" y1="233.0" x2="580.22" y2="246.5" stroke="#ec3a3e" stroke-width="1"/>
<rect x="578.57" y="233.9" width="3.3" height="11.7" fill="#ec3a3e"/>
<line x1="584.33" y1="242.0" x2="584.33" y2="247.5" stroke="#239b68" stroke-width="1"/>
<rect x="582.68" y="244.7" width="3.3" height="1.8" fill="#239b68"/>
<line x1="588.44" y1="241.6" x2="588.44" y2="251.0" stroke="#ec3a3e" stroke-width="1"/>
<rect x="586.79" y="244.7" width="3.3" height="3.6" fill="#ec3a3e"/>
<line x1="592.55" y1="242.9" x2="592.55" y2="253.7" stroke="#239b68" stroke-width="1"/>
<rect x="590.90" y="245.6" width="3.3" height="3.6" fill="#239b68"/>
<line x1="596.66" y1="242.0" x2="596.66" y2="255.5" stroke="#ec3a3e" stroke-width="1"/>
<rect x="595.01" y="245.6" width="3.3" height="9.0" fill="#ec3a3e"/>
<line x1="600.77" y1="250.1" x2="600.77" y2="258.2" stroke="#239b68" stroke-width="1"/>
<rect x="599.12" y="251.9" width="3.3" height="2.7" fill="#239b68"/>
<line x1="604.88" y1="244.7" x2="604.88" y2="256.5" stroke="#ec3a3e" stroke-width="1"/>
<rect x="603.24" y="246.5" width="3.3" height="8.1" fill="#ec3a3e"/>
<line x1="609.00" y1="251.0" x2="609.00" y2="258.2" stroke="#ec3a3e" stroke-width="1"/>
<rect x="607.35" y="255.5" width="3.3" height="1.2" fill="#ec3a3e"/>
<line x1="613.11" y1="251.0" x2="613.11" y2="260.0" stroke="#ec3a3e" stroke-width="1"/>
<rect x="611.46" y="256.0" width="3.3" height="2.2" fill="#ec3a3e"/>
<line x1="617.22" y1="255.5" x2="617.22" y2="266.3" stroke="#ec3a3e" stroke-width="1"/>
<rect x="615.57" y="257.7" width="3.3" height="7.8" fill="#ec3a3e"/>
<line x1="621.33" y1="261.8" x2="621.33" y2="278.0" stroke="#239b68" stroke-width="1"/>
<rect x="619.68" y="262.6" width="3.3" height="1.6" fill="#239b68"/>
<line x1="625.44" y1="260.8" x2="625.44" y2="266.0" stroke="#ec3a3e" stroke-width="1"/>
<rect x="623.79" y="262.5" width="3.3" height="2.6" fill="#ec3a3e"/>
<line x1="629.55" y1="261.9" x2="629.55" y2="292.0" stroke="#ec3a3e" stroke-width="1"/>
<rect x="627.90" y="264.0" width="3.3" height="27.0" fill="#ec3a3e"/>
<line x1="633.66" y1="286.7" x2="633.66" y2="310.4" stroke="#ec3a3e" stroke-width="1"/>
<rect x="632.01" y="289.9" width="3.3" height="16.7" fill="#ec3a3e"/>
<line x1="637.77" y1="298.6" x2="637.77" y2="309.0" stroke="#239b68" stroke-width="1"/>
<rect x="636.12" y="306.1" width="3.3" height="1.7" fill="#239b68"/>
<line x1="641.88" y1="298.6" x2="641.88" y2="310.4" stroke="#239b68" stroke-width="1"/>
<rect x="640.23" y="305.0" width="3.3" height="2.2" fill="#239b68"/>
<line x1="645.99" y1="304.0" x2="645.99" y2="311.5" stroke="#ec3a3e" stroke-width="1"/>
<rect x="644.34" y="305.0" width="3.3" height="5.4" fill="#ec3a3e"/>
<line x1="650.11" y1="304.0" x2="650.11" y2="316.5" stroke="#ec3a3e" stroke-width="1"/>
<rect x="648.46" y="310.4" width="3.3" height="5.4" fill="#ec3a3e"/>
<line x1="654.22" y1="302.9" x2="654.22" y2="326.6" stroke="#239b68" stroke-width="1"/>
<rect x="652.57" y="309.4" width="3.3" height="6.4" fill="#239b68"/>
<line x1="658.33" y1="309.4" x2="658.33" y2="332.0" stroke="#ec3a3e" stroke-width="1"/>
<rect x="656.68" y="310.4" width="3.3" height="14.1" fill="#ec3a3e"/>
<line x1="662.44" y1="321.2" x2="662.44" y2="332.0" stroke="#ec3a3e" stroke-width="1"/>
<rect x="660.79" y="324.7" width="3.3" height="2.5" fill="#ec3a3e"/>
<line x1="666.55" y1="315.9" x2="666.55" y2="327.5" stroke="#239b68" stroke-width="1"/>
<rect x="664.90" y="324.7" width="3.3" height="2.0" fill="#239b68"/>
<line x1="670.66" y1="319.8" x2="670.66" y2="326.5" stroke="#239b68" stroke-width="1"/>
<rect x="669.01" y="323.7" width="3.3" height="2.1" fill="#239b68"/>
<line x1="674.77" y1="321.3" x2="674.77" y2="334.8" stroke="#ec3a3e" stroke-width="1"/>
<rect x="673.12" y="322.5" width="3.3" height="11.5" fill="#ec3a3e"/>
<line x1="678.88" y1="317.7" x2="678.88" y2="342.9" stroke="#239b68" stroke-width="1"/>
<rect x="677.23" y="319.5" width="3.3" height="14.4" fill="#239b68"/>
<line x1="682.99" y1="306.0" x2="682.99" y2="321.5" stroke="#239b68" stroke-width="1"/>
<rect x="681.34" y="314.1" width="3.3" height="6.3" fill="#239b68"/>
<line x1="687.10" y1="308.2" x2="687.10" y2="320.5" stroke="#ec3a3e" stroke-width="1"/>
<rect x="685.45" y="313.2" width="3.3" height="6.3" fill="#ec3a3e"/>
<line x1="691.22" y1="314.1" x2="691.22" y2="322.0" stroke="#ec3a3e" stroke-width="1"/>
<rect x="689.57" y="318.6" width="3.3" height="2.7" fill="#ec3a3e"/>
<line x1="695.33" y1="305.6" x2="695.33" y2="324.0" stroke="#239b68" stroke-width="1"/>
<rect x="693.68" y="310.0" width="3.3" height="11.3" fill="#239b68"/>
<line x1="699.44" y1="295.2" x2="699.44" y2="310.5" stroke="#239b68" stroke-width="1"/>
<rect x="697.79" y="296.1" width="3.3" height="13.9" fill="#239b68"/>
<line x1="703.55" y1="288.9" x2="703.55" y2="297.5" stroke="#239b68" stroke-width="1"/>
<rect x="701.90" y="290.2" width="3.3" height="6.8" fill="#239b68"/>
</g>
</svg>

<!-- toolbar -->
<div class="tf" style="left:50px">1m</div>
<div class="tf" style="left:72.3px">5m</div>
<div class="tf" style="left:95.3px">15m</div>
<div class="tf" style="left:123.1px">30m</div>
<div class="tf" style="left:151.8px">1h</div>
<div class="tf" style="left:170.7px">2h</div>
<div class="tf" style="left:189.9px">4h</div>
<div class="tf" style="left:209.6px;color:#2f8ee6">D</div>
<div class="tf" style="left:224px">W</div>
<div class="tf" style="left:242px">M</div>
<svg style="left:259px;top:50px" width="8" height="6" viewBox="0 0 8 6"><path d="M1,1.5 L4,4.3 L7,1.5" fill="none" stroke="#333" stroke-width="1.1"/></svg>
<svg style="left:274px;top:42px" width="24" height="22" viewBox="0 0 24 22"><g stroke="#3a3e4a" stroke-width="1.15" fill="#fff"><path d="M7.95,5V18.8M13.7,7.2V16.6"/><rect x="6.6" y="7.2" width="2.7" height="9.4" rx="0.6"/><rect x="12.35" y="9.3" width="2.7" height="5.4" rx="0.6"/></g></svg>
<svg style="left:304px;top:46px" width="18" height="16" viewBox="0 0 18 16"><path d="M1.1,7.6 L5.4,3.4 L9.9,7.6 L14,4" fill="none" stroke="#2a2e39" stroke-width="1.25" stroke-linejoin="round"/><path d="M13.5,9.1V15.8M10.1,12.4H16.9" stroke="#2a2e39" stroke-width="1.2"/></svg>
<div class="tf" style="left:324.2px;top:48px">Các chỉ báo</div>
<svg style="left:390px;top:45.5px" width="18" height="17" viewBox="0 0 18 17"><path d="M16.00,8.40 L15.99,8.67 L15.98,8.94 L15.90,9.21 L15.52,9.42 L15.08,9.59 L14.65,9.73 L14.25,9.85 L14.14,10.04 L14.07,10.23 L14.00,10.43 L13.91,10.62 L13.82,10.81 L13.77,11.01 L13.96,11.38 L14.17,11.79 L14.36,12.22 L14.48,12.64 L14.35,12.88 L14.17,13.08 L13.98,13.28 L13.78,13.47 L13.58,13.65 L13.34,13.78 L12.92,13.66 L12.49,13.47 L12.08,13.26 L11.71,13.07 L11.51,13.12 L11.32,13.21 L11.13,13.30 L10.93,13.37 L10.74,13.44 L10.55,13.55 L10.43,13.95 L10.29,14.38 L10.12,14.82 L9.91,15.20 L9.64,15.28 L9.37,15.29 L9.10,15.30 L8.83,15.29 L8.56,15.28 L8.29,15.20 L8.08,14.82 L7.91,14.38 L7.77,13.95 L7.65,13.55 L7.46,13.44 L7.27,13.37 L7.07,13.30 L6.88,13.21 L6.69,13.12 L6.49,13.07 L6.12,13.26 L5.71,13.47 L5.28,13.66 L4.86,13.78 L4.62,13.65 L4.42,13.47 L4.22,13.28 L4.03,13.08 L3.85,12.88 L3.72,12.64 L3.84,12.22 L4.03,11.79 L4.24,11.38 L4.43,11.01 L4.38,10.81 L4.29,10.62 L4.20,10.43 L4.13,10.23 L4.06,10.04 L3.95,9.85 L3.55,9.73 L3.12,9.59 L2.68,9.42 L2.30,9.21 L2.22,8.94 L2.21,8.67 L2.20,8.40 L2.21,8.13 L2.22,7.86 L2.30,7.59 L2.68,7.38 L3.12,7.21 L3.55,7.07 L3.95,6.95 L4.06,6.76 L4.13,6.57 L4.20,6.37 L4.29,6.18 L4.38,5.99 L4.43,5.79 L4.24,5.42 L4.03,5.01 L3.84,4.58 L3.72,4.16 L3.85,3.92 L4.03,3.72 L4.22,3.52 L4.42,3.33 L4.62,3.15 L4.86,3.02 L5.28,3.14 L5.71,3.33 L6.12,3.54 L6.49,3.73 L6.69,3.68 L6.88,3.59 L7.07,3.50 L7.27,3.43 L7.46,3.36 L7.65,3.25 L7.77,2.85 L7.91,2.42 L8.08,1.98 L8.29,1.60 L8.56,1.52 L8.83,1.51 L9.10,1.50 L9.37,1.51 L9.64,1.52 L9.91,1.60 L10.12,1.98 L10.29,2.42 L10.43,2.85 L10.55,3.25 L10.74,3.36 L10.93,3.43 L11.13,3.50 L11.32,3.59 L11.51,3.68 L11.71,3.73 L12.08,3.54 L12.49,3.33 L12.92,3.14 L13.34,3.02 L13.58,3.15 L13.78,3.33 L13.98,3.52 L14.17,3.72 L14.35,3.92 L14.48,4.16 L14.36,4.58 L14.17,5.01 L13.96,5.42 L13.77,5.79 L13.82,5.99 L13.91,6.18 L14.00,6.37 L14.07,6.57 L14.14,6.76 L14.25,6.95 L14.65,7.07 L15.08,7.21 L15.52,7.38 L15.90,7.59 L15.98,7.86 L15.99,8.13Z" fill="none" stroke="#3d404b" stroke-width="1.2" stroke-linejoin="round"/><circle cx="9.1" cy="8.4" r="1.7" fill="none" stroke="#3d404b" stroke-width="1.3"/></svg>

<!-- legend -->
<svg style="left:52px;top:77.5px" width="11" height="10" viewBox="0 0 11 10"><rect x="0.7" y="0.7" width="9.3" height="8.3" rx="1.3" fill="none" stroke="#8a8d94" stroke-width="1.1"/><path d="M0.7,4.85H10" stroke="#8a8d94" stroke-width="1.1"/></svg>
<div id="legend1">XAUUSD, 1D&nbsp;&nbsp;&nbsp;&nbsp;&nbsp;&nbsp;&nbsp;&nbsp;&nbsp;&nbsp;&nbsp;&nbsp;&nbsp;</div>
<svg style="left:133px;top:79px" width="8" height="6" viewBox="0 0 8 6"><path d="M1,1.5 L4,4.3 L7,1.5" fill="none" stroke="#333" stroke-width="1.2"/></svg>
<div class="abs" style="left:160.4px;top:76px;font-size:10.8px;line-height:13px;color:#4a4a4a;white-space:nowrap;-webkit-text-stroke:0.25px currentColor">O<span style="color:#2f9e6a">1755.64</span></div>
<div class="abs" style="left:216.4px;top:76px;font-size:10.8px;line-height:13px;color:#4a4a4a;white-space:nowrap;-webkit-text-stroke:0.25px currentColor">H<span style="color:#2f9e6a">1767.77</span></div>
<div class="abs" style="left:272.8px;top:76px;font-size:10.8px;line-height:13px;color:#4a4a4a;white-space:nowrap;-webkit-text-stroke:0.25px currentColor">L<span style="color:#2f9e6a">1751.98</span></div>
<div class="abs" style="left:326.4px;top:76px;font-size:10.8px;line-height:13px;color:#4a4a4a;white-space:nowrap;-webkit-text-stroke:0.25px currentColor">C<span style="color:#2f9e6a">1765.86</span></div>
<div class="abs" style="left:382px;top:76px;font-size:10.8px;line-height:13px;color:#2f9e6a;white-space:nowrap;-webkit-text-stroke:0.25px currentColor">+10.27 (+0.58%)</div>

<div id="redbox"></div>
<div id="ma">MA Cross (9, 26)</div>
<svg style="left:123px;top:97.5px" width="7" height="6" viewBox="0 0 7 6"><path d="M1,1.5 L3.5,4 L6,1.5" fill="none" stroke="#444" stroke-width="1.1"/></svg>
<svg style="left:0;top:0" width="200" height="120" viewBox="0 0 200 120">
<rect x="137.3" y="95.4" width="10" height="8.9" rx="1.2" fill="#c6cad2"/>
<rect x="149.3" y="95.4" width="10.3" height="8.9" rx="1.2" fill="#c6cad2"/>
<rect x="162.3" y="95.4" width="10" height="8.9" rx="1.2" fill="#c6cad2"/>
<g fill="none" stroke="#fff" stroke-width="1.25">
<ellipse cx="142.3" cy="99.85" rx="3.3" ry="2.3"/>
<path d="M165.2,97.4L169.4,102.3M169.4,97.4L165.2,102.3"/>
</g>
<circle cx="142.3" cy="99.85" r="0.8" fill="#fff"/>
<path d="M157.85,99.85 L157.85,100.03 L157.83,100.21 L157.53,100.34 L157.15,100.42 L156.78,100.47 L156.64,100.56 L156.60,100.67 L156.55,100.79 L156.50,100.89 L156.54,101.05 L156.76,101.35 L156.98,101.69 L157.09,101.99 L156.98,102.13 L156.85,102.25 L156.73,102.38 L156.59,102.49 L156.29,102.38 L155.95,102.16 L155.66,101.94 L155.49,101.90 L155.39,101.95 L155.27,102.00 L155.16,102.04 L155.07,102.18 L155.02,102.55 L154.94,102.93 L154.81,103.23 L154.63,103.25 L154.45,103.25 L154.27,103.25 L154.09,103.23 L153.96,102.93 L153.88,102.55 L153.83,102.18 L153.74,102.04 L153.63,102.00 L153.51,101.95 L153.41,101.90 L153.24,101.94 L152.95,102.16 L152.61,102.38 L152.31,102.49 L152.17,102.38 L152.05,102.25 L151.92,102.13 L151.81,101.99 L151.92,101.69 L152.14,101.35 L152.36,101.05 L152.40,100.89 L152.35,100.79 L152.30,100.67 L152.26,100.56 L152.12,100.47 L151.75,100.42 L151.37,100.34 L151.07,100.21 L151.05,100.03 L151.05,99.85 L151.05,99.67 L151.07,99.49 L151.37,99.36 L151.75,99.28 L152.12,99.23 L152.26,99.14 L152.30,99.03 L152.35,98.91 L152.40,98.81 L152.36,98.64 L152.14,98.35 L151.92,98.01 L151.81,97.71 L151.92,97.57 L152.05,97.45 L152.17,97.32 L152.31,97.21 L152.61,97.32 L152.95,97.54 L153.24,97.76 L153.41,97.80 L153.51,97.75 L153.63,97.70 L153.74,97.66 L153.83,97.52 L153.88,97.15 L153.96,96.77 L154.09,96.47 L154.27,96.45 L154.45,96.45 L154.63,96.45 L154.81,96.47 L154.94,96.77 L155.02,97.15 L155.07,97.52 L155.16,97.66 L155.27,97.70 L155.39,97.75 L155.49,97.80 L155.66,97.76 L155.95,97.54 L156.29,97.32 L156.59,97.21 L156.73,97.32 L156.85,97.45 L156.98,97.57 L157.09,97.71 L156.98,98.01 L156.76,98.35 L156.54,98.64 L156.50,98.81 L156.55,98.91 L156.60,99.03 L156.64,99.14 L156.78,99.23 L157.15,99.28 L157.53,99.36 L157.83,99.49 L157.85,99.67Z" fill="#fff"/><circle cx="154.45" cy="99.85" r="1.1" fill="#c6cad2"/>
</svg>
<div id="mav1">1727.3044</div>
<div id="mav2">1752.4496</div>

<!-- axes -->
<div id="axisV"></div>
<div id="axisH"></div>
<div class="pl" style="top:363.9px">1640.00</div>
<div class="tk" style="top:368.1px"></div>
<div class="pl" style="top:339.0px">1680.00</div>
<div class="tk" style="top:343.2px"></div>
<div class="pl" style="top:314.2px">1720.00</div>
<div class="tk" style="top:318.4px"></div>
<div class="pl" style="top:264.5px">1800.00</div>
<div class="tk" style="top:268.7px"></div>
<div class="pl" style="top:239.7px">1840.00</div>
<div class="tk" style="top:243.9px"></div>
<div class="pl" style="top:214.8px">1880.00</div>
<div class="tk" style="top:219.0px"></div>
<div class="pl" style="top:190.0px">1920.00</div>
<div class="tk" style="top:194.2px"></div>
<div class="pl" style="top:165.1px">1960.00</div>
<div class="tk" style="top:169.3px"></div>
<div class="pl" style="top:140.3px">2000.00</div>
<div class="tk" style="top:144.5px"></div>
<div class="pl" style="top:115.4px">2040.00</div>
<div class="tk" style="top:119.6px"></div>
<div class="pl" style="top:90.6px">2080.00</div>
<div class="tk" style="top:94.8px"></div>
<div id="pricetag"><span style="display:inline-block;transform:scaleX(0.87)">1765.86</span></div>
<div style="position:absolute;left:728px;top:68px;width:50px;height:324px;overflow:hidden"></div>
<div style="position:absolute;left:0;top:0;width:728px;height:417px;overflow:hidden">
<div class="tl b" style="left:55.9px">2022</div><div class="ttk" style="left:95.9px"></div>
<div class="tl" style="left:142.1px">Tháng Hai</div><div class="ttk" style="left:182.1px"></div>
<div class="tl" style="left:224.4px">Tháng 3</div><div class="ttk" style="left:264.4px"></div>
<div class="tl" style="left:322.7px">Tháng 4</div><div class="ttk" style="left:362.7px"></div>
<div class="tl" style="left:400.6px">Tháng Năm</div><div class="ttk" style="left:440.6px"></div>
<div class="tl" style="left:495.6px">Tháng 6</div><div class="ttk" style="left:535.6px"></div>
<div class="tl" style="left:585.0px">Tháng 7</div><div class="ttk" style="left:625.0px"></div>
<div class="tl" style="left:700.3px;width:auto;text-align:left;transform-origin:0 0">Tháng Tám</div><div class="ttk" style="left:720.6px"></div>
</div>
<svg style="left:741px;top:395.5px" width="14" height="14" viewBox="0 0 14 14"><path d="M12.30,6.60 L12.18,6.81 L11.85,7.00 L11.39,7.14 L10.92,7.25 L10.63,7.36 L10.59,7.51 L10.55,7.66 L10.51,7.81 L10.46,7.95 L10.40,8.09 L10.34,8.23 L10.27,8.37 L10.20,8.51 L10.13,8.64 L10.04,8.77 L10.18,9.05 L10.43,9.46 L10.65,9.89 L10.75,10.25 L10.69,10.49 L10.45,10.55 L10.09,10.45 L9.66,10.23 L9.25,9.98 L8.97,9.84 L8.84,9.93 L8.71,10.00 L8.57,10.07 L8.43,10.14 L8.29,10.20 L8.15,10.26 L8.01,10.31 L7.86,10.35 L7.71,10.39 L7.56,10.43 L7.45,10.72 L7.34,11.19 L7.20,11.65 L7.01,11.98 L6.80,12.10 L6.59,11.98 L6.40,11.65 L6.26,11.19 L6.15,10.72 L6.04,10.43 L5.89,10.39 L5.74,10.35 L5.59,10.31 L5.45,10.26 L5.31,10.20 L5.17,10.14 L5.03,10.07 L4.89,10.00 L4.76,9.93 L4.63,9.84 L4.35,9.98 L3.94,10.23 L3.51,10.45 L3.15,10.55 L2.91,10.49 L2.85,10.25 L2.95,9.89 L3.17,9.46 L3.42,9.05 L3.56,8.77 L3.47,8.64 L3.40,8.51 L3.33,8.37 L3.26,8.23 L3.20,8.09 L3.14,7.95 L3.09,7.81 L3.05,7.66 L3.01,7.51 L2.97,7.36 L2.68,7.25 L2.21,7.14 L1.75,7.00 L1.42,6.81 L1.30,6.60 L1.42,6.39 L1.75,6.20 L2.21,6.06 L2.68,5.95 L2.97,5.84 L3.01,5.69 L3.05,5.54 L3.09,5.39 L3.14,5.25 L3.20,5.11 L3.26,4.97 L3.33,4.83 L3.40,4.69 L3.47,4.56 L3.56,4.43 L3.42,4.15 L3.17,3.74 L2.95,3.31 L2.85,2.95 L2.91,2.71 L3.15,2.65 L3.51,2.75 L3.94,2.97 L4.35,3.22 L4.63,3.36 L4.76,3.27 L4.89,3.20 L5.03,3.13 L5.17,3.06 L5.31,3.00 L5.45,2.94 L5.59,2.89 L5.74,2.85 L5.89,2.81 L6.04,2.77 L6.15,2.48 L6.26,2.01 L6.40,1.55 L6.59,1.22 L6.80,1.10 L7.01,1.22 L7.20,1.55 L7.34,2.01 L7.45,2.48 L7.56,2.77 L7.71,2.81 L7.86,2.85 L8.01,2.89 L8.15,2.94 L8.29,3.00 L8.43,3.06 L8.57,3.13 L8.71,3.20 L8.84,3.27 L8.97,3.36 L9.25,3.22 L9.66,2.97 L10.09,2.75 L10.45,2.65 L10.69,2.71 L10.75,2.95 L10.65,3.31 L10.43,3.74 L10.18,4.15 L10.04,4.43 L10.13,4.56 L10.20,4.69 L10.27,4.83 L10.34,4.97 L10.40,5.11 L10.46,5.25 L10.51,5.39 L10.55,5.54 L10.59,5.69 L10.63,5.84 L10.92,5.95 L11.39,6.06 L11.85,6.20 L12.18,6.39Z" fill="#3d404b"/><circle cx="6.8" cy="6.6" r="2.55" fill="#fff"/></svg>

<!-- buy/sell panel -->
<div id="panel"></div>
<div class="btn" style="left:549.6px;width:95.4px">Bán 1765.86</div>
<div class="btn" style="left:654px;width:97.3px">Mua 1766.54</div>
<svg style="left:0;top:0" width="780" height="100" viewBox="0 0 780 100"><g fill="#bfc2c8"><rect x="756.60" y="52.00" width="1.45" height="1.45"/><rect x="759.25" y="52.00" width="1.45" height="1.45"/><rect x="761.90" y="52.00" width="1.45" height="1.45"/><rect x="756.60" y="54.60" width="1.45" height="1.45"/><rect x="759.25" y="54.60" width="1.45" height="1.45"/><rect x="761.90" y="54.60" width="1.45" height="1.45"/><rect x="756.60" y="57.20" width="1.45" height="1.45"/><rect x="759.25" y="57.20" width="1.45" height="1.45"/><rect x="761.90" y="57.20" width="1.45" height="1.45"/><rect x="756.60" y="62.40" width="1.45" height="1.45"/><rect x="759.25" y="62.40" width="1.45" height="1.45"/><rect x="761.90" y="62.40" width="1.45" height="1.45"/><rect x="756.60" y="65.00" width="1.45" height="1.45"/><rect x="759.25" y="65.00" width="1.45" height="1.45"/><rect x="761.90" y="65.00" width="1.45" height="1.45"/><rect x="756.60" y="67.60" width="1.45" height="1.45"/><rect x="759.25" y="67.60" width="1.45" height="1.45"/><rect x="761.90" y="67.60" width="1.45" height="1.45"/><rect x="756.60" y="72.60" width="1.45" height="1.45"/><rect x="759.25" y="72.60" width="1.45" height="1.45"/><rect x="761.90" y="72.60" width="1.45" height="1.45"/><rect x="756.60" y="75.20" width="1.45" height="1.45"/><rect x="759.25" y="75.20" width="1.45" height="1.45"/><rect x="761.90" y="75.20" width="1.45" height="1.45"/><rect x="756.60" y="77.80" width="1.45" height="1.45"/><rect x="759.25" y="77.80" width="1.45" height="1.45"/><rect x="761.90" y="77.80" width="1.45" height="1.45"/></g></svg>

<!-- left toolbar -->
<svg style="left:9px;top:39px" width="38" height="374" viewBox="9 39 38 374">
<g fill="none" stroke="#3a3d47" stroke-width="1.15" stroke-linecap="round">
<!-- crosshair -->
<path d="M28.8,50V55.3M28.8,61.6V66.8M20.3,58.4H25.6M32,58.4H37.3" stroke="#6db6f2" stroke-width="1.4" stroke-linecap="butt"/>
<!-- line -->
<path d="M23.2,89 L33.6,79"/><circle cx="22.2" cy="90.1" r="1.5"/><circle cx="34.7" cy="77.9" r="1.5"/>
<!-- pitchfork -->
<path d="M23.3,107.5 L27.6,103.4 M23.3,115.3 L33.6,106.2 M31.2,115.3 L36.2,110.8 M23.1,109.8 L29.2,115.2"/>
<circle cx="22.2" cy="108.6" r="1.4"/><circle cx="22.2" cy="116.3" r="1.4"/><circle cx="30.1" cy="116.3" r="1.4"/>
<!-- brush -->
<path d="M20.7,142.4 L24.3,135.5 A4,4 0 1 1 27.3,142.4 Z" stroke-linejoin="round"/>
<path d="M31.5,131.2 C30.6,132.8 31.1,135 32.8,135.6 L38.1,131.2"/>
<!-- T -->
<path d="M24.3,158.4 C24.3,156.8 24.8,156.1 26,156.1 H32.3 C33.5,156.1 33.9,156.8 33.9,158.4" stroke-width="1.3"/>
<path d="M28.9,156.3V168.5" stroke-width="1.7" stroke-linecap="butt"/><path d="M27.1,168.7H30.8" stroke-width="1.3"/>
<!-- pattern -->
<path d="M24.3,182.6 L21.9,195.1 M24.6,183 L22.3,194.7 M24.3,182.6 L35.7,192.9 M33.3,183.1 L21.9,195.1 M33.3,183.1 L35.7,192.9" stroke-width="1"/>
<circle cx="24.3" cy="182.6" r="1.35" fill="#fff"/><circle cx="33.3" cy="183.1" r="1.35" fill="#fff"/><circle cx="21.9" cy="195.1" r="1.35" fill="#fff"/><circle cx="35.7" cy="192.9" r="1.35" fill="#fff"/>
<!-- measure -->
<path d="M23.2,208.6H36M23.2,216.4H34.4M23.2,221.5H36" stroke-width="1.1"/>
<circle cx="21.6" cy="208.6" r="1.5"/><circle cx="21.6" cy="216.4" r="1.5"/><circle cx="21.6" cy="221.5" r="1.5"/><circle cx="36" cy="216.4" r="1.5"/>
<path d="M28.8,211V219.4" stroke="#222" stroke-width="1.1"/><path d="M28.8,211.2V211.4M28.8,219.2V219.4" stroke="#222" stroke-width="1.9"/>
<!-- arrow -->
<path d="M24,240.7H33.6M29.4,236.1L24,240.7L29.4,245.5" stroke="#0c0e15" stroke-width="2.6" stroke-linejoin="round"/>
<!-- ruler -->
<path d="M20.2,280.6 L33,268.2 L37.1,271.8 L23.8,284.3 Z" stroke-width="1.15" stroke-linejoin="round"/>
<path d="M23.1,278.7L24.3,280M25.4,276.5L26.6,277.8M27.7,274.3L28.9,275.6M30,272.1L31.2,273.4M32.3,270L33.5,271.3" stroke-width="1"/>
<!-- zoom -->
<circle cx="27.3" cy="301.4" r="5.6" stroke-width="1.2"/><path d="M31.5,305.4L34.1,308M27.3,299V303.8M24.9,301.4H29.7" stroke-width="1.2"/>
<!-- magnet -->
<path d="M22.9,344.3V337.3 C22.9,333.3 25.5,331.2 28.8,331.2 C32.1,331.2 34.6,333.3 34.6,337.3 V344.3 H31.2 V337.3 C31.2,335.6 30.2,334.6 28.8,334.6 C27.4,334.6 26.2,335.6 26.2,337.3 V344.3 Z M22.9,341.2H26.2M31.2,341.2H34.6" stroke-width="1.1" stroke-linejoin="round"/>
<!-- pencil lock -->
<path d="M20.7,367 L21.4,364.2 L29.4,356 L31.6,358.2 L23.6,366.4 Z M22.3,364.9 L30.3,357" stroke-width="1.1" stroke-linejoin="round"/>
<rect x="29.6" y="367" width="6.5" height="4.7" rx="0.6" stroke-width="1.1"/><path d="M31.3,367V364.6C31.3,362.6 34.6,362.4 34.8,364.3" stroke-width="1.1"/>
<!-- lock -->
<rect x="22.8" y="388.5" width="11.8" height="8.8" rx="0.8" stroke-width="1.2"/><path d="M25.5,388.5V385.3C25.5,382.5 30.3,382.3 31.3,385" stroke-width="1.2"/><circle cx="28.5" cy="393.5" r="0.9" fill="#333" stroke="none"/>
</g>
</svg>
<div class="sep" style="top:258px"></div>
<div class="sep" style="top:320.4px"></div>
<div id="collapse"></div>
<svg style="left:9.9px;top:397px" width="37" height="16" viewBox="0 0 37 16"><path d="M11.7,4.9 L18,10.8 L23.9,4.9" fill="none" stroke="#fff" stroke-width="1.4"/></svg>
<div id="sidetab"></div>
<svg style="left:42.9px;top:351.7px" width="5" height="20" viewBox="0 0 5 20"><path d="M3.2,7.8 L1.8,9.8 L3.2,11.8" fill="none" stroke="#8fa6c8" stroke-width="0.8"/></svg>
</body></html>
